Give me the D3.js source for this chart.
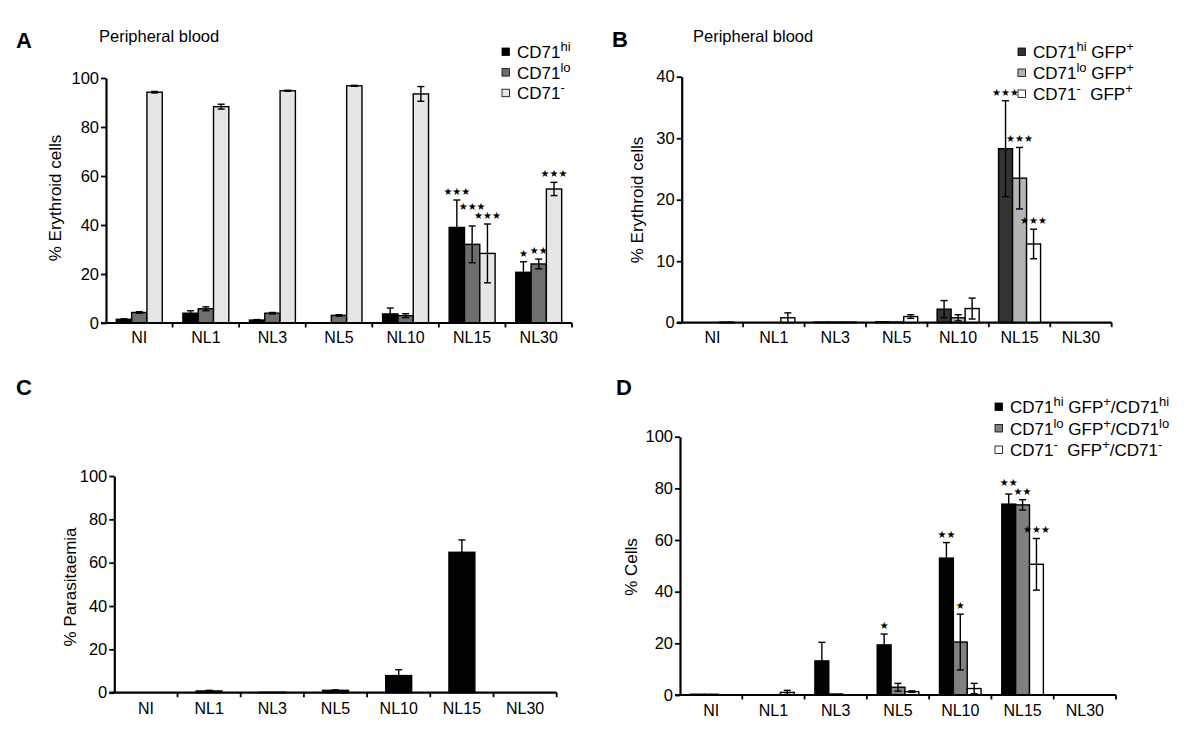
<!DOCTYPE html>
<html><head><meta charset="utf-8">
<script src="https://cdn.jsdelivr.net/npm/d3@7"></script>
<style>body{margin:0;background:#fff} svg{display:block} text{font-family:"Liberation Sans",Arial,Helvetica,sans-serif}</style>
</head><body><svg id="c" width="1200" height="734"></svg>
<script>
const categories = ["NI","NL1","NL3","NL5","NL10","NL15","NL30"];
const yTicks100 = [0,20,40,60,80,100];
const yTicks40 = [0,10,20,30,40];

// Panel A
const aHi = [1.5, 4.0, 1.2, 0, 3.7, 39.0, 20.7];
const aHiErr = [0.2, 1.0, 0.2, 0, 2.4, 11.2, 4.3];
const aLo = [4.3, 5.8, 4.0, 3.1, 3.0, 32.1, 24.1];
const aLoErr = [0.3, 0.8, 0.3, 0.3, 0.8, 7.5, 2.0];
const aNeg = [94.2, 88.3, 94.8, 96.8, 93.5, 28.4, 54.7];
const aNegErr = [0.3, 1.0, 0.2, 0.2, 3.0, 12.0, 2.7];
const aHiStars = ["","","","","","***","*"];
const aLoStars = ["","","","","","***","**"];
const aNegStars = ["","","","","","***","***"];

// Panel B
const bHi = [0, 0, 0.1, 0.15, 2.2, 28.3, 0];
const bHiErr = [0, 0, 0, 0, 1.4, 7.8, 0];
const bLo = [0, 0, 0.1, 0.1, 0.8, 23.5, 0];
const bLoErr = [0, 0, 0, 0, 0.5, 5.0, 0];
const bNeg = [0.1, 0.8, 0.1, 1.0, 2.3, 12.8, 0];
const bNegErr = [0, 0.8, 0, 0.3, 1.7, 2.4, 0];
const bHiStars = ["","","","","","***",""];
const bLoStars = ["","","","","","***",""];
const bNegStars = ["","","","","","***",""];

// Panel C
const cPara = [0, 0.8, 0.2, 1.1, 7.9, 64.8, 0];
const cParaErr = [0, 0.3, 0, 0.2, 2.7, 5.7, 0];

// Panel D
const dHi = [0.3, 0, 13.2, 19.4, 53.0, 73.9, 0];
const dHiErr = [0, 0, 7.2, 4.2, 6.0, 3.9, 0];
const dLo = [0.3, 0, 0.4, 3.0, 20.5, 73.6, 0];
const dLoErr = [0, 0, 0, 1.5, 10.8, 2.0, 0];
const dNeg = [0, 1.0, 0, 1.3, 2.5, 50.6, 0];
const dNegErr = [0, 0.8, 0, 0.3, 2.0, 10.0, 0];
const dHiStars = ["","","","*","**","**",""];
const dLoStars = ["","","","","*","**",""];
const dNegStars = ["","","","","","***",""];

// Legend labels: [text, isSuperscript]
const legA = [[["CD71",0],["hi",1]], [["CD71",0],["lo",1]], [["CD71",0],["-",1]]];
const legB = [[["CD71",0],["hi",1],[" GFP",0],["+",1]],
              [["CD71",0],["lo",1],[" GFP",0],["+",1]],
              [["CD71",0],["-",1],["  GFP",0],["+",1]]];
const legD = [[["CD71",0],["hi",1],[" GFP",0],["+",1],["/CD71",0],["hi",1]],
              [["CD71",0],["lo",1],[" GFP",0],["+",1],["/CD71",0],["lo",1]],
              [["CD71",0],["-",1],["  GFP",0],["+",1],["/CD71",0],["-",1]]];

const svg = d3.select("#c");
const FONT = 16;
const STAR_W = 8.4;

function panel(o){
  const g = svg.append("g");
  const x = d3.scaleBand().domain(categories).range([o.x0, o.x1]);
  const y = d3.scaleLinear().domain([0, o.max]).range([o.y0, o.yTop]);
  const gw = x.bandwidth() * o.groupFrac;
  const sub = d3.scaleBand().domain(d3.range(o.series.length)).range([-gw/2, gw/2]);
  const bw = sub.bandwidth();
  const starItems = [];

  o.series.forEach((s, si) => {
    const sg = g.append("g");
    const data = s.values.map((v, i) => ({cat: categories[i], ci: i, si, v, e: s.err[i], star: s.stars ? s.stars[i] : ""}));
    const cx = d => x(d.cat) + x.bandwidth()/2 + sub(si);
    sg.selectAll("rect").data(data.filter(d => d.v > 0)).join("rect")
      .attr("x", cx).attr("width", bw)
      .attr("y", d => y(d.v)).attr("height", d => y(0) - y(d.v))
      .attr("fill", s.color).attr("stroke", "#000").attr("stroke-width", 1.4);
    const eb = data.filter(d => d.e > 0);
    const mid = d => cx(d) + bw/2;
    const lo = d => o.upperOnly ? d.v : Math.max(0, d.v - d.e);
    sg.selectAll("line.v").data(eb).join("line").attr("class","v")
      .attr("x1", mid).attr("x2", mid).attr("y1", d => y(lo(d))).attr("y2", d => y(d.v + d.e))
      .attr("stroke", "#000").attr("stroke-width", 1.4);
    sg.selectAll("line.t").data(eb).join("line").attr("class","t")
      .attr("x1", d => mid(d) - 3.5).attr("x2", d => mid(d) + 3.5)
      .attr("y1", d => y(d.v + d.e)).attr("y2", d => y(d.v + d.e))
      .attr("stroke", "#000").attr("stroke-width", 1.4);
    if (!o.upperOnly) {
      sg.selectAll("line.b").data(eb.filter(d => d.v - d.e > 0)).join("line").attr("class","b")
        .attr("x1", d => mid(d) - 3.5).attr("x2", d => mid(d) + 3.5)
        .attr("y1", d => y(d.v - d.e)).attr("y2", d => y(d.v - d.e))
        .attr("stroke", "#000").attr("stroke-width", 1.4);
    }
    data.filter(d => d.star).forEach(d => {
      starItems.push({ci: d.ci, si, x: mid(d), w: STAR_W * d.star.length, y: y(d.v + d.e) - 5, n: d.star.length});
    });
  });

  // avoid star collisions: process right-to-left within each category
  d3.group(starItems, d => d.ci).forEach(items => {
    items.sort((a, b) => b.si - a.si);
    for (let k = 1; k < items.length; k++) {
      const cur = items[k], right = items[k - 1];
      const hOverlap = (cur.x + cur.w/2) > (right.x - right.w/2);
      if (hOverlap && Math.abs(cur.y - right.y) < 9) cur.y = right.y - 9;
    }
  });
  g.selectAll("text.star").data(starItems).join("text").attr("class","star")
    .attr("x", d => d.x).attr("y", d => d.y)
    .attr("text-anchor", "middle").attr("font-size", 10)
    .style("font-family", "DejaVu Sans")
    .text(d => "\u2605".repeat(d.n));

  // y axis
  const ya = g.append("g").attr("transform", `translate(${o.x0},0)`)
    .call(d3.axisLeft(y).tickValues(o.ticks).tickSize(5).tickSizeOuter(0).tickPadding(2).tickFormat(d3.format("d")));
  ya.select(".domain").attr("stroke-width", 2.2);
  ya.selectAll(".tick line").attr("stroke-width", 1.8);
  ya.selectAll("text").attr("font-size", FONT + 0.5).attr("fill", "#000").style("font-family", null);

  // x axis
  const xa = g.append("g").attr("transform", `translate(0,${o.y0})`)
    .call(d3.axisBottom(x).tickSize(0).tickSizeOuter(0).tickPadding(o.labelPad));
  xa.select(".domain").attr("stroke-width", 2.2).attr("d", `M${o.x0 - 5},0H${o.x1}`);
  xa.selectAll("text").attr("font-size", FONT).attr("fill", "#000").style("font-family", null);
  xa.selectAll("line.sep").data(d3.range(1, categories.length + 1)).join("line").attr("class", "sep")
    .attr("x1", k => o.x0 + k * x.bandwidth()).attr("x2", k => o.x0 + k * x.bandwidth())
    .attr("y1", 0).attr("y2", 4.5).attr("stroke", "#000").attr("stroke-width", 1.8);

  // y label
  g.append("text").attr("transform", `translate(${o.ylx},${o.yly}) rotate(-90)`)
    .attr("text-anchor", "middle").attr("font-size", FONT + 1).text(o.ylabel);

  // legend
  if (o.legend) {
    o.series.forEach((s, si) => {
      const ly = o.legend.y + si * o.legend.dy;
      g.append("rect").attr("x", o.legend.x).attr("y", ly - 4).attr("width", 7.5).attr("height", 7.5)
        .attr("fill", s.color).attr("stroke", "#000").attr("stroke-width", 0.8);
      const t = g.append("text").attr("x", o.legend.x + 15).attr("y", ly + 6)
        .attr("font-size", FONT + 1).attr("xml:space", "preserve").style("white-space", "pre");
      let raised = false;
      s.label.forEach(([txt, sup]) => {
        const ts = t.append("tspan").text(txt);
        if (sup && !raised) { ts.attr("dy", -7); raised = true; }
        else if (!sup && raised) { ts.attr("dy", 7); raised = false; }
        if (sup) ts.attr("font-size", 13);
      });
    });
  }

  // panel letter & title
  g.append("text").attr("x", o.lx).attr("y", o.ly).attr("font-size", 22).attr("font-weight", "bold").text(o.letter);
  if (o.title) g.append("text").attr("x", o.tx).attr("y", o.ty).attr("font-size", FONT + 0.5).text(o.title);
}

panel({
  letter: "A", lx: 16, ly: 48, title: "Peripheral blood", tx: 99, ty: 42,
  x0: 106, x1: 572, y0: 323, yTop: 78, max: 100, ticks: yTicks100, groupFrac: 0.69, labelPad: 9,
  ylabel: "% Erythroid cells", ylx: 61, yly: 198,
  legend: {x: 502, y: 52, dy: 20.6},
  series: [
    {values: aHi, err: aHiErr, stars: aHiStars, color: "#000000", label: legA[0]},
    {values: aLo, err: aLoErr, stars: aLoStars, color: "#6e6e6e", label: legA[1]},
    {values: aNeg, err: aNegErr, stars: aNegStars, color: "#e6e6e6", label: legA[2]}
  ]
});

panel({
  letter: "B", lx: 612, ly: 47, title: "Peripheral blood", tx: 693, ty: 42,
  x0: 681.7, x1: 1111.7, y0: 322.7, yTop: 76.7, max: 40, ticks: yTicks40, groupFrac: 0.684, labelPad: 9,
  ylabel: "% Erythroid cells", ylx: 643, yly: 200,
  legend: {x: 1018, y: 52, dy: 21},
  series: [
    {values: bHi, err: bHiErr, stars: bHiStars, color: "#333333", label: legB[0]},
    {values: bLo, err: bLoErr, stars: bLoStars, color: "#b4b4b4", label: legB[1]},
    {values: bNeg, err: bNegErr, stars: bNegStars, color: "#ffffff", label: legB[2]}
  ]
});

panel({
  letter: "C", lx: 16, ly: 395,
  x0: 114.3, x1: 556.7, y0: 692.7, yTop: 476, max: 100, ticks: yTicks100, groupFrac: 0.41, labelPad: 10, upperOnly: true,
  ylabel: "% Parasitaemia", ylx: 76, yly: 587,
  series: [
    {values: cPara, err: cParaErr, color: "#000000"}
  ]
});

panel({
  letter: "D", lx: 616, ly: 395,
  x0: 680, x1: 1116, y0: 695, yTop: 436.7, max: 100, ticks: yTicks100, groupFrac: 0.668, labelPad: 10,
  ylabel: "% Cells", ylx: 637, yly: 567,
  legend: {x: 995, y: 407, dy: 21.5},
  series: [
    {values: dHi, err: dHiErr, stars: dHiStars, color: "#000000", label: legD[0]},
    {values: dLo, err: dLoErr, stars: dLoStars, color: "#808080", label: legD[1]},
    {values: dNeg, err: dNegErr, stars: dNegStars, color: "#ffffff", label: legD[2]}
  ]
});
</script></body></html>
